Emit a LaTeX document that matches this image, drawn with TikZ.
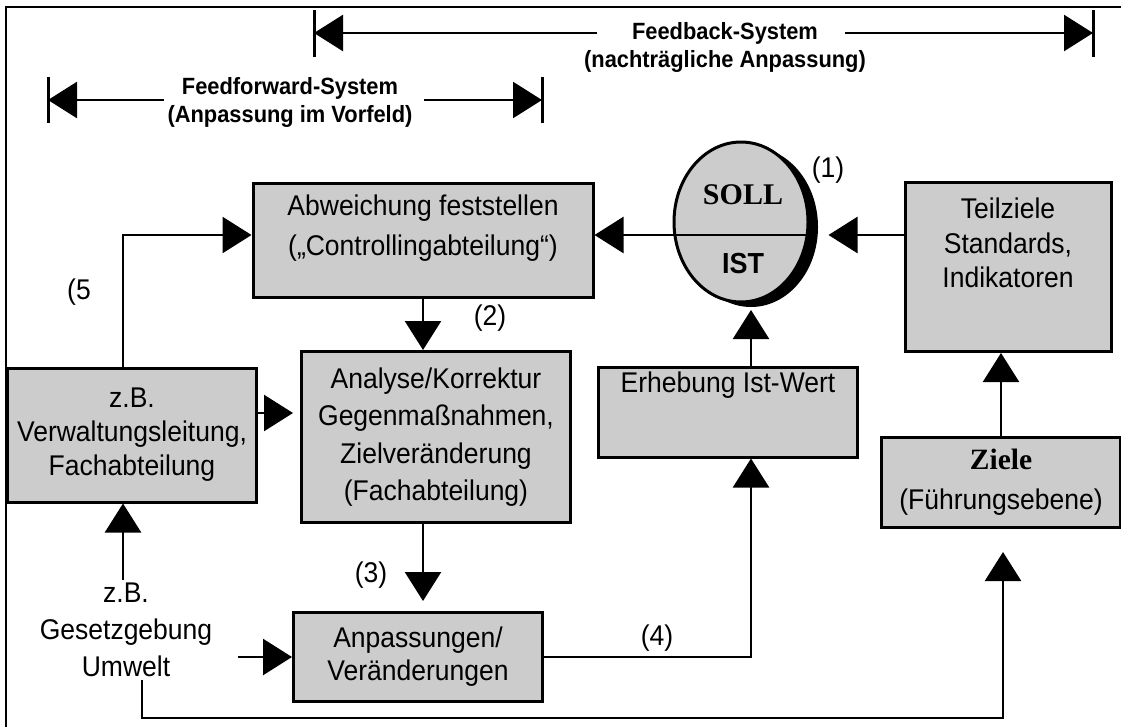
\documentclass[tikz,border=0pt]{standalone}
\usepackage{fontspec}
\setmainfont{Liberation Sans}[FakeStretch=0.93]
\newfontfamily\timesfont{Liberation Serif}
\usetikzlibrary{arrows.meta,shapes.geometric,shadows}
\definecolor{boxgray}{RGB}{204,204,204}

\begin{document}
\begin{tikzpicture}[x=1pt,y=-1pt,
  box/.style={draw, line width=3pt, fill=boxgray, inner sep=0pt},
  txt/.style={align=center, font=\fontsize{28.5}{36}\selectfont},
  head/.style={align=center, font=\bfseries\fontsize{23.5}{28}\selectfont},
  arr/.style={line width=2.5pt, -{Triangle[length=29pt,width=36pt]}},
  bar/.style={line width=3pt}]
\useasboundingbox (0,0) rectangle (1121,726);
\draw [line width=2pt] (6,7) rectangle (1130,740);

\coordinate (fbl) at (314,33);
\coordinate (fbr) at (1093,33);
\coordinate (ffl) at (48,100);
\coordinate (ffr) at (542,100);
\node[head] (fb) at (725,47) {Feedback-System\\(nachträgliche Anpassung)};
\node[head] (ff) at (290,102) {Feedforward-System\\(Anpassung im Vorfeld)};
\draw [bar] (fbl) ++(0,-23) -- ++(0,47);
\draw [bar] (fbr) ++(0,-23) -- ++(0,47);
\draw [bar] (ffl) ++(0,-23) -- ++(0,46);
\draw [bar] (ffr) ++(0,-23) -- ++(0,46);
\draw [arr] ([xshift=16pt]fb.west |- fbl) -- (fbl);
\draw [arr] ([xshift=-24pt]fb.east |- fbr) -- (fbr);
\draw [arr] (ff.west |- ffl) -- (ffl);
\draw [arr] ([xshift=8pt]ff.east |- ffr) -- (ffr);

\node[box, minimum width=340pt, minimum height=114pt] (abw) at (423,240) {};
\node[txt, font=\fontsize{28.5}{40}\selectfont] (abwtxt) at (423,228) {Abweichung feststellen\\(„Controllingabteilung“)};
\node[box, txt, font=\fontsize{28.5}{37.5}\selectfont, minimum width=269pt, minimum height=171pt] (ana) at (436,437) {Analyse/Korrektur\\Gegenmaßnahmen,\\Zielveränderung\\(Fachabteilung)};
\node[box, txt, font=\fontsize{28.5}{33}\selectfont, minimum width=249pt, minimum height=89pt] (anp) at (418,657) {Anpassungen/\\Veränderungen};
\node[box, txt, font=\fontsize{28.5}{34}\selectfont, minimum width=249pt, minimum height=134pt] (verw) at (132,435) {z.B.\\Verwaltungsleitung,\\Fachabteilung};
\node[box, minimum width=259pt, minimum height=90pt] (erh) at (728,412) {};
\node[txt] (erhtxt) at (728,385) {Erhebung Ist-Wert};
\node[box, minimum width=206pt, minimum height=169pt] (teil) at (1008,267) {};
\node[txt, font=\fontsize{28.5}{34.5}\selectfont] (teiltxt) at (1008,243) {Teilziele\\Standards,\\Indikatoren};
\node[box, txt, font=\fontsize{28.5}{40}\selectfont, minimum width=239pt, minimum height=90pt] (ziele) at (1001,482) {{\timesfont\bfseries\fontsize{29.5}{40}\selectfont Ziele}\\(Führungsebene)};
\node[txt, font=\fontsize{28.5}{37}\selectfont] (gesetz) at (126,630) {z.B.\\Gesetzgebung\\Umwelt};

% SOLL/IST
\node[ellipse, draw, line width=3pt, fill=boxgray, inner sep=0pt, minimum width=134pt, minimum height=160pt,
  drop shadow={shadow xshift=10pt, shadow yshift=-5pt, fill=black, opacity=1}] (soll) at (741,222) {};
\coordinate (mid) at (741,235);
\draw [line width=2.5pt] (soll.west |- mid) -- (soll.east |- mid);
\node[font=\timesfont\bfseries\fontsize{30}{30}\selectfont] (solltxt) at (743,195) {SOLL};
\node[font=\bfseries\fontsize{29}{29}\selectfont] (isttxt) at (743,264) {IST};

\node[txt] (n1) at (828,170) {(1)};
\node[txt] (n2) at (490,318) {(2)};
\node[txt] (n3) at (371,575) {(3)};
\node[txt] (n4) at (657,638) {(4)};
\node[txt] (n5) at (79,292) {(5};

\coordinate (vx) at (123,235);
\coordinate (vy) at (0,413);
\coordinate (ex) at (751,310);
\coordinate (zt) at (1003,552);
\coordinate (gb) at (142,718);
\draw [arr] (teil.west |- mid) -- ([xshift=19pt]soll.east |- mid);
\draw [arr] (soll.west |- mid) -- (abw.east |- mid);
\draw [arr] (verw.north -| vx) -- (vx) -- (abw.west |- vx);
\draw [arr] (abw.south) -- (abw.south |- ana.north);
\draw [arr, shorten >=10pt] (abw.south |- ana.south) -- (abw.south |- anp.north);
\draw [arr, shorten >=7pt] (verw.east |- vy) -- (ana.west |- vy);
\draw [arr] (gesetz.north -| vx) -- (verw.south -| vx);
\draw [arr, shorten <=22pt] (gesetz.east |- anp.west) -- (anp.west);
\draw [arr] (anp.east) -| (erh.south -| ex);
\draw [arr] (erh.north -| ex) -- (ex);
\draw [arr] (ziele.north) -- (ziele.north |- teil.south);
\draw [arr] (gesetz.south -| gb) -- (gb) -| (zt);

\end{tikzpicture}
\end{document}
